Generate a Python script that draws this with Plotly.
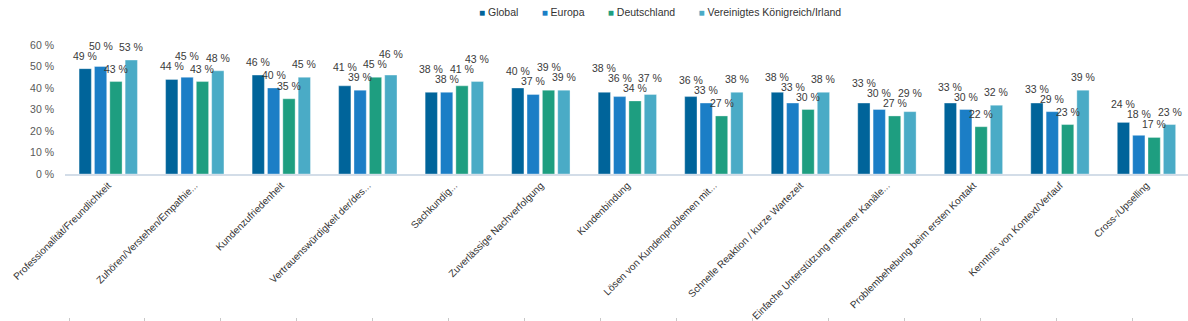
import plotly.graph_objects as go

# --- data -------------------------------------------------------------
categories = [
    "Professionalität/Freundlichkeit",
    "Zuhören/Verstehen/Empathie...",
    "Kundenzufriedenheit",
    "Vertrauenswürdigkeit der/des...",
    "Sachkundig...",
    "Zuverlässige Nachverfolgung",
    "Kundenbindung",
    "Lösen von Kundenproblemen mit...",
    "Schnelle Reaktion / kurze Wartezeit",
    "Einfache Unterstützung mehrerer Kanäle...",
    "Problembehebung beim ersten Kontakt",
    "Kenntnis von Kontext/Verlauf",
    "Cross-/Upselling",
]
series_names = ["Global", "Europa", "Deutschland", "Vereinigtes Königreich/Irland"]
global_vals = [49, 44, 46, 41, 38, 40, 38, 36, 38, 33, 33, 33, 24]
europa_vals = [50, 45, 40, 39, 38, 37, 36, 33, 33, 30, 30, 29, 18]
deutschland_vals = [43, 43, 35, 45, 41, 39, 34, 27, 30, 27, 22, 23, 17]
uk_vals = [53, 48, 45, 46, 43, 39, 37, 38, 38, 29, 32, 39, 23]
y_ticks = [0, 10, 20, 30, 40, 50, 60]

series_values = [global_vals, europa_vals, deutschland_vals, uk_vals]

# --- styling ----------------------------------------------------------
colors = ["#00649A", "#1B7EC6", "#1E9E80", "#4AABC6"]
FONT = "Liberation Sans"
W, H = 1188, 321
M_L, M_R, M_T, M_B = 65, 0, 45, 4
plot_h = H - M_T - M_B
baseline_px = 174                      # pixel row of the 0 % line
y_dom0 = (H - M_B - baseline_px) / plot_h
y_max = 60
px_per_unit = (baseline_px - M_T) / y_max
x_range = [-0.5, 12.48]
bar_gap, group_gap = 0.29, 0.2

fig = go.Figure()
for name, vals, col in zip(series_names, series_values, colors):
    fig.add_trace(go.Bar(
        name=name, x=categories, y=vals,
        marker=dict(color=col, line=dict(color="rgba(255,255,255,0.35)", width=1)),
        showlegend=False, hoverinfo="x+y",
    ))

# --- value labels, stacked upward where neighbouring labels collide ----
LABEL_OFFSET = 13   # px from bar top to label centre
LABEL_GAP = 10      # minimum vertical distance between neighbouring labels
n_s = len(series_values)
slot = (1 - bar_gap) / n_s
for ci in range(len(categories)):
    natural = {s: series_values[s][ci] * px_per_unit + LABEL_OFFSET for s in range(n_s)}
    order = sorted(range(n_s), key=lambda s: (natural[s], -s))
    placed = {}
    for s in order:
        p = natural[s]
        for _ in range(3):
            for nb in (s - 1, s + 1):
                if nb in placed and abs(p - placed[nb]) < LABEL_GAP:
                    p = max(p, placed[nb] + LABEL_GAP)
        placed[s] = p
    for s in range(n_s):
        v = series_values[s][ci]
        xoff = -((1 - bar_gap) / 2) + slot * (s + 0.5)
        fig.add_annotation(
            x=ci + xoff, y=0, xref="x", yref="y",
            text=f"{v} %", showarrow=False,
            yanchor="middle", xanchor="center",
            yshift=placed[s],
            font=dict(family=FONT, size=10.5, color="#3A3A3A"),
        )

# --- legend row -------------------------------------------------------
legend_items = [
    f"<span style='color:{col};font-size:10px'>■</span> {name}"
    for name, col in zip(series_names, colors)
]
legend_text = ("&nbsp;" * 8).join(legend_items)
fig.add_annotation(
    x=(660 - M_L) / (W - M_L - M_R), y=(H - M_B - 12) / plot_h,
    xref="paper", yref="paper", text=legend_text, showarrow=False,
    xanchor="center", yanchor="middle",
    font=dict(family=FONT, size=10.5, color="#333333"),
)

# invisible trace carrying the lower tick row
fig.add_trace(go.Scatter(x=[None], y=[None], xaxis="x2", showlegend=False, hoverinfo="skip"))

fig.update_layout(
    template="none",
    width=W, height=H,
    margin=dict(l=M_L, r=M_R, t=M_T, b=M_B, autoexpand=False),
    paper_bgcolor="white", plot_bgcolor="white",
    barmode="group", bargap=bar_gap, bargroupgap=group_gap,
    showlegend=False,
    font=dict(family=FONT, size=11, color="#333333"),
    xaxis=dict(
        range=x_range, tickangle=-45, showgrid=False, zeroline=False,
        showline=True, linecolor="#D3DDE8", linewidth=1.5, automargin=False,
        ticks="", tickfont=dict(family=FONT, size=10, color="#333333"),
    ),
    xaxis2=dict(
        overlaying="x", anchor="free", position=0, automargin=False,
        range=[-4 / 75.93, -4 / 75.93 + (W - M_L - M_R) / 75.93],
        tickvals=list(range(15)), ticks="outside", ticklen=4,
        tickcolor="#C8C8C8", tickwidth=1, showticklabels=False,
        showgrid=False, zeroline=False, showline=False,
    ),
    yaxis=dict(
        domain=[y_dom0, 1], range=[0, y_max], automargin=False,
        tickvals=y_ticks, ticktext=[f"{t} %" for t in y_ticks],
        showgrid=False, zeroline=False, showline=False, ticks="",
        ticklabelstandoff=10,
        tickfont=dict(family=FONT, size=10.5, color="#595959"),
    ),
)

fig.write_html("out.html")
